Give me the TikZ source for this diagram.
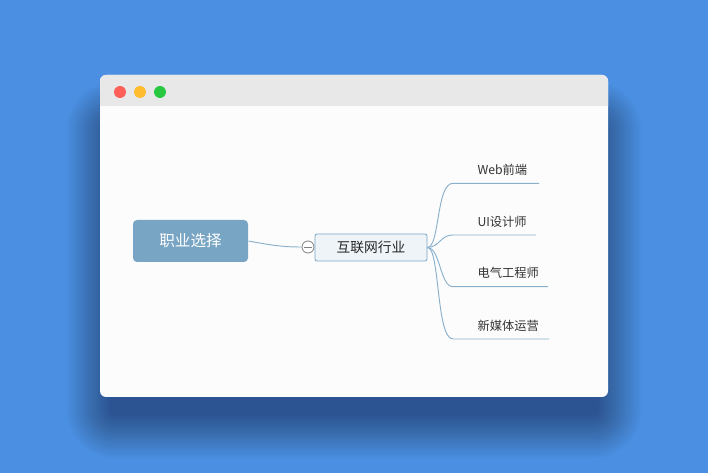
\documentclass[tikz,border=0pt]{standalone}
\usepackage{fontspec}
\newfontfamily\cjk{Noto Sans CJK SC}
\usetikzlibrary{calc}
\definecolor{deskblue}{HTML}{4A8FE1}
\definecolor{barGray}{HTML}{E8E8E8}
\definecolor{paper}{HTML}{FCFCFC}
\definecolor{rootBlue}{HTML}{78A5C4}
\definecolor{subFill}{HTML}{EEF4F8}
\definecolor{lineBlue}{HTML}{8AB0CC}
\definecolor{dotRed}{HTML}{FE5F57}
\definecolor{dotYellow}{HTML}{FEBC2E}
\definecolor{dotGreen}{HTML}{28C840}
\tikzset{every picture/.style={line width=0.75pt}}
\tikzset{
  rootnode/.style={fill=rootBlue, rounded corners=3pt, text=white, font=\cjk\fontsize{11.7}{13}\selectfont, minimum width=86.25pt, minimum height=31.5pt, inner sep=0pt},
  subnode/.style={fill=subFill, draw=rootBlue, line width=0.6pt, rounded corners=1.5pt, text=black!85, font=\cjk\fontsize{10.3}{12}\selectfont, minimum width=84pt, minimum height=20.25pt, inner sep=0pt},
  leafnode/.style={text=black!80, font=\cjk\fontsize{9.2}{11}\selectfont, inner sep=0pt, anchor=base west},
  branch/.style={draw=lineBlue, line width=0.7pt}
}

\begin{document}
\begin{tikzpicture}[x=0.75pt,y=0.75pt,yscale=-1,xscale=1]
    \useasboundingbox (0,0) rectangle (708,473);
    \fill[deskblue] (0,0) rectangle (708,473);
    % shadow of the window
    \foreach \i in {0,...,29}{
      \pgfmathsetmacro\e{1.5*\i}
      \pgfmathsetmacro\r{4+0.75*\e}
      \fill[black, opacity=0.013, rounded corners=\r pt] (110-\e,125-\e) rectangle (598+\e,415+\e);
    }
    % window
    \fill[paper, rounded corners=4.5pt] (100,75) rectangle (608,397);
    \fill[barGray] (100,106) {[rounded corners=4.5pt] -- (100,75) -- (608,75)} -- (608,106) -- cycle;
    \fill[dotRed] (120,92) circle (4.5pt);
    \fill[dotYellow] (140,92) circle (4.5pt);
    \fill[dotGreen] (160,92) circle (4.5pt);

    % mind map
    \node[rootnode] (job) at (190.5,241) {职业选择};
    \node[subnode] (web) at (371,247.5) {互联网行业};
    \node[draw=black!50, fill=white, circle, minimum size=9pt, inner sep=0pt, line width=0.6pt] (fold) at (308,247) {};
    \draw[black!50, line width=0.6pt] ($(fold.west)+(2,0)$) -- ($(fold.east)+(-2,0)$);
    \draw[branch] (job.east) .. controls (275,246) and (285,247) .. (fold.west);

    \node[leafnode] (front) at (477,175) {Web前端};
    \node[leafnode] (ui) at (477,226.5) {UI设计师};
    \node[leafnode] (elec) at (477,278) {电气工程师};
    \node[leafnode] (media) at (477,330.5) {新媒体运营};

    \coordinate (c1) at (453,183.3);
    \coordinate (c2) at (453,235);
    \coordinate (c3) at (453,286.7);
    \coordinate (c4) at (453,339);

    \draw[branch] (web.east) .. controls (440,247) and (436,183.3) .. (c1) -- (539,183.3);
    \draw[branch] (web.east) .. controls (440,247) and (440,235) .. (c2) -- (536,235);
    \draw[branch] (web.east) .. controls (440,247) and (440,286.7) .. (c3) -- (548,286.7);
    \draw[branch] (web.east) .. controls (440,247) and (436,339) .. (c4) -- (549,339);
\end{tikzpicture}
\end{document}
